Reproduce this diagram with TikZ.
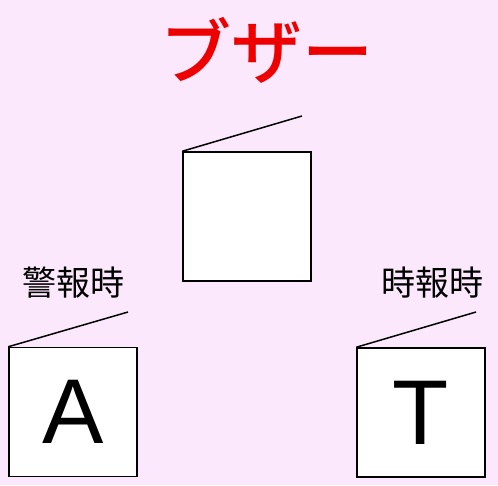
\documentclass[tikz,border=0pt]{standalone}
\usepackage{fontspec}
\newfontfamily\jpfont{Noto Sans CJK JP}
\newfontfamily\jpmedium{Noto Sans CJK JP Medium}
\setsansfont{Liberation Sans}
\usetikzlibrary{positioning}
\definecolor{bgpink}{RGB}{252,232,252}
\definecolor{buzzred}{RGB}{238,0,0}

\begin{document}
\begin{tikzpicture}[x=1pt, y=-1pt,
    box/.style={draw, line width=1.5pt, fill=white, minimum width=128pt, minimum height=129pt, inner sep=0pt, font=\sffamily\fontsize{92}{92}\selectfont},
    lid/.style={line width=1.5pt},
    caption/.style={font=\jpfont\fontsize{34}{34}\selectfont}]
  \fill[bgpink] (0,0) rectangle (498,485);
  \useasboundingbox (0,0) rectangle (498,485);

  \node[font=\jpmedium\fontsize{71}{71}\selectfont, text=buzzred] (title) at (267,50) {ブザー};

  \node[box] (B0) at (247,216.5) {};
  \node[box] (BA) at (73,412) {A};
  \node[box] (BT) at (421,412.5) {T};

  \node[caption] (capA) at (73,283) {警報時};
  \node[caption] (capT) at (432,283) {時報時};

  \coordinate (L0) at (302,116);
  \coordinate (LA) at (128,312);
  \coordinate (LT) at (476,312);

  \draw[lid] (B0.north west) -- (L0);
  \draw[lid] (BA.north west) -- (LA);
  \draw[lid] (BT.north west) -- (LT);
\end{tikzpicture}
\end{document}
